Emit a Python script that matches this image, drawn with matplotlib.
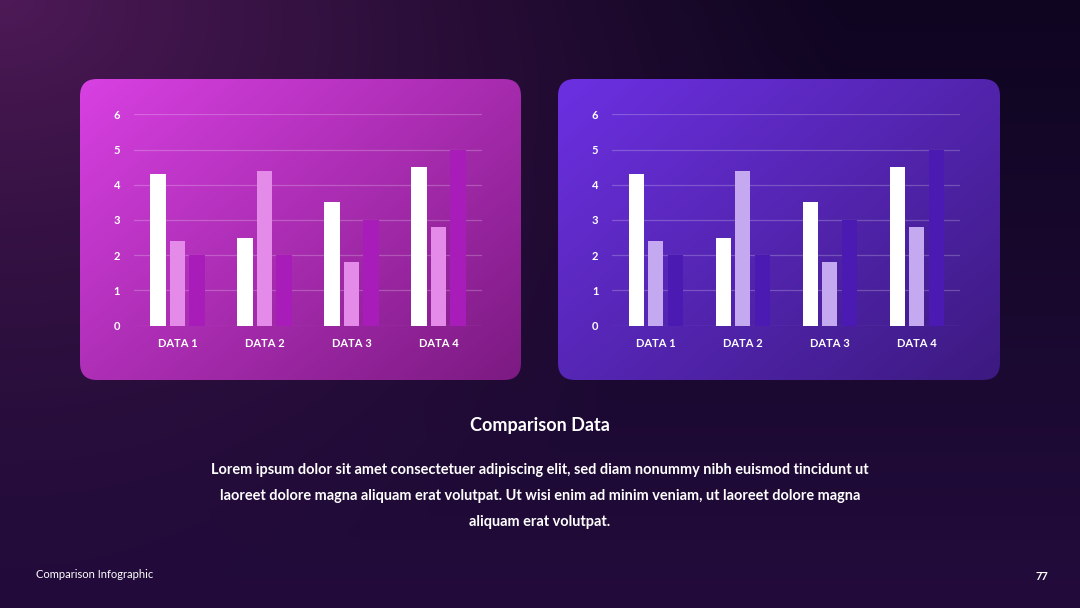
import numpy as np
import matplotlib
matplotlib.use("Agg")
import matplotlib.pyplot as plt
from matplotlib.patches import FancyBboxPatch
from matplotlib.colors import to_rgb

# ---------------- data ----------------
categories = ["DATA 1", "DATA 2", "DATA 3", "DATA 4"]
series_a = [4.3, 2.5, 3.5, 4.5]
series_b = [2.4, 4.4, 1.8, 2.8]
series_c = [2.0, 2.0, 3.0, 5.0]
y_ticks = [0, 1, 2, 3, 4, 5, 6]

title = "Comparison Data"
body_lines = [
    "Lorem ipsum dolor sit amet consectetuer adipiscing elit, sed diam nonummy nibh euismod tincidunt ut",
    "laoreet dolore magna aliquam erat volutpat. Ut wisi enim ad minim veniam, ut laoreet dolore magna",
    "aliquam erat volutpat.",
]
footer_left = "Comparison Infographic"
footer_right = "77"

FONT = "Lato"
W, H = 1080, 608
fig = plt.figure(figsize=(W / 100, H / 100), dpi=100)

# ---------------- background ----------------
bg = fig.add_axes([0, 0, 1, 1])
bg.set_xlim(0, W)
bg.set_ylim(H, 0)
bg.axis("off")

yy, xx = np.mgrid[0:H, 0:W]
dark_top = np.array(to_rgb("#0f0521"))
dark_bot = np.array(to_rgb("#230c3c"))
glow = np.array(to_rgb("#4e1a57"))
v = (yy / H)[..., None]
base = dark_top * (1 - v) + dark_bot * v
d = np.sqrt((xx / 850.0) ** 2 + (yy / 600.0) ** 2)
g = np.clip(1 - d, 0, 1)[..., None] ** 1.2
img = base * (1 - g) + glow * g
bg.imshow(img, extent=[0, W, H, 0], aspect="auto", zorder=0)


def panel(x0, y0, x1, y1, c_tl, c_br):
    yy2, xx2 = np.mgrid[0:100, 0:140]
    u = xx2 / 139.0
    w = yy2 / 99.0
    t = np.clip((u * 0.55 + w * 0.45), 0, 1)[..., None]
    a = np.array(to_rgb(c_tl))
    b = np.array(to_rgb(c_br))
    grad = a * (1 - t) + b * t
    im = bg.imshow(grad, extent=[x0, x1, y1, y0], aspect="auto", zorder=1,
                   interpolation="bilinear")
    patch = FancyBboxPatch((x0, y0), x1 - x0, y1 - y0,
                           boxstyle="round,pad=0,rounding_size=17",
                           facecolor="none", edgecolor="none",
                           transform=bg.transData)
    bg.add_patch(patch)
    im.set_clip_path(patch)


panel(80, 79, 521, 380, "#d840e2", "#7c1a82")
panel(558, 79, 1000, 380, "#6c30e2", "#3c1a80")


def chart(x_left, colors):
    ax = fig.add_axes([x_left / W, (H - 325.7) / H, 348 / W, (325.7 - 114.3) / H])
    ax.set_facecolor("none")
    x = np.arange(len(categories))
    wdt = 0.175
    off = 0.225
    ax.bar(x - off, series_a, wdt, color=colors[0], zorder=3)
    ax.bar(x, series_b, wdt, color=colors[1], zorder=3)
    ax.bar(x + off, series_c, wdt, color=colors[2], zorder=3)
    ax.set_xlim(-0.5, 3.5)
    ax.set_ylim(0, 6)
    ax.set_yticks(y_ticks)
    ax.set_yticklabels([str(t) for t in y_ticks])
    ax.set_xticks(x)
    ax.set_xticklabels(categories)
    for s in ax.spines.values():
        s.set_visible(False)
    ax.grid(axis="y", color="white", alpha=0.22, linewidth=0.9, zorder=0)
    ax.tick_params(length=0, colors="white")
    ax.tick_params(axis="y", pad=10)
    ax.tick_params(axis="x", pad=9)
    for lab in ax.get_xticklabels() + ax.get_yticklabels():
        lab.set_fontfamily(FONT)
        lab.set_fontsize(8)
        lab.set_fontweight("bold")
        lab.set_color("white")
    return ax


chart(134, ["#ffffff", "#e48ae9", "#a81cb9"])
chart(612.3, ["#ffffff", "#c4a9f1", "#4a1ab2"])

# ---------------- texts ----------------
bg.text(540, 425, title, ha="center", va="center", color="white",
        fontsize=13, fontfamily=FONT, fontweight="bold", zorder=5)
for i, line in enumerate(body_lines):
    bg.text(540, 470 + 26 * i, line, ha="center", va="center", color="white",
            fontsize=10.45, fontfamily=FONT, fontweight="bold", zorder=5)
bg.text(36, 575, footer_left, ha="left", va="center", color="white",
        fontsize=8, fontfamily=FONT, zorder=5)
bg.text(1042, 576, footer_right, ha="center", va="center", color="white",
        fontsize=8, fontfamily=FONT, fontweight="bold", zorder=5)

fig.savefig("out.png", dpi=100)
